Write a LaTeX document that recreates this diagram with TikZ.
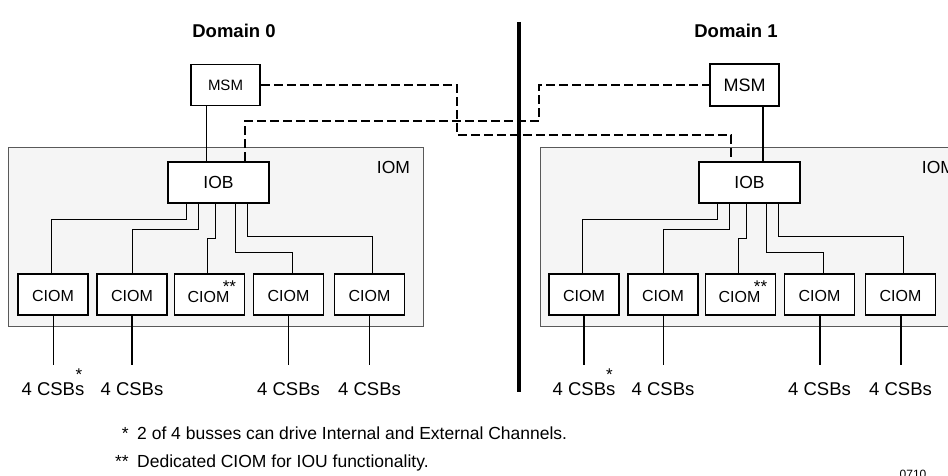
\documentclass[tikz,border=0pt]{standalone}
\usepackage{fontspec}
\setmainfont{Liberation Sans}
\usetikzlibrary{calc}
\begin{document}
\begin{tikzpicture}[x=1pt,y=-1pt,
  box/.style={draw=black, line width=1.8pt, fill=white, inner sep=0pt, minimum width=69pt, minimum height=41pt},
  ciom/.style={box, minimum width=70pt, font=\fontsize{16}{18}\selectfont},
  iombox/.style={draw=black!65, line width=0.8pt, fill=black!4},
  wire/.style={line width=0.9pt},
  thickwire/.style={line width=2pt},
  link/.style={line width=1.6pt, dash pattern=on 9pt off 4pt},
  lbl/.style={font=\fontsize{18.5}{20}\selectfont, inner sep=0pt, anchor=base},
  title/.style={font=\fontsize{18.5}{20}\selectfont\bfseries, inner sep=0pt, anchor=base},
  note/.style={font=\fontsize{17.5}{20}\selectfont, inner sep=0pt},
  star/.style={font=\fontsize{17}{18}\selectfont, inner sep=0pt, anchor=north},
  divider/.style={line width=4pt}
]
\useasboundingbox (0,0) rectangle (948,476);
\clip (0,0) rectangle (948,476);

% IOM enclosures
\path[iombox] (8,147) rectangle (423,326);
\path[iombox] (540,147) rectangle (962,326);
\node[font=\fontsize{17.5}{20}\selectfont, inner sep=0pt] (iomlbl0) at (393.5,167) {IOM};
\node[font=\fontsize{17.5}{20}\selectfont, inner sep=0pt] (iomlbl1) at (938.5,167) {IOM};

% divider
\coordinate (divtop) at (519,22);
\coordinate (divbot) at (519,392);
\draw[divider] (divtop) -- (divbot);

% titles
\node[title] (dom0) at (234,38) {Domain 0};
\node[title] (dom1) at (736,38) {Domain 1};

% MSMs and IOBs
\node[box, font=\fontsize{15}{17}\selectfont] (msm0) at (225.5,85) {MSM};
\node[box, minimum height=42pt, font=\fontsize{18}{20}\selectfont] (msm1) at (744.5,85) {MSM};
\node[box, minimum width=101pt, font=\fontsize{17.5}{20}\selectfont] (iob0) at (218.5,182.5) {IOB};
\node[box, minimum width=101pt, font=\fontsize{17.5}{20}\selectfont] (iob1) at (749.5,182.5) {IOB};

% CIOMs
\foreach \i/\x in {1/53,2/132,3/209.5,4/288.5,5/369.5}{
  \node[ciom] (c0\i) at (\x,294.5) {};
  \node[ciom] (c1\i) at ({\x+531},294.5) {};
}
\foreach \d in {0,1}{
  \foreach \i in {1,2,4,5}{
    \node[font=\fontsize{16}{18}\selectfont, inner sep=0pt] at ($(c\d\i.center)+(0,1)$) {CIOM};
  }
  \node[font=\fontsize{16}{18}\selectfont, inner sep=0pt] (t\d3) at ($(c\d3.center)+(-1,2)$) {CIOM};
  \node[star] (s\d3) at ($(c\d3.center)+(20,-13.5)$) {**};
}

% IOB to CIOM wires
\foreach \d in {0,1}{
  \draw[wire] ($(iob\d.south west)+(19,0)$) -- ++(0,16) -| ($(c\d1.north)+(-1.5,0)$);
  \draw[wire] ($(iob\d.south west)+(31,0)$) -- ++(0,26) -| ($(c\d2.north)+(0.5,0)$);
  \draw[wire] ($(iob\d.south west)+(48,0)$) -- ++(0,35) -| ($(c\d3.north)+(-2.5,0)$);
  \draw[wire] ($(iob\d.south west)+(68,0)$) -- ++(0,49) -| ($(c\d4.north)+(4,0)$);
  \draw[wire] ($(iob\d.south west)+(80,0)$) -- ++(0,33) -| ($(c\d5.north)+(3,0)$);
}

% MSM to IOB
\draw[wire] ($(msm0.south west)+(16,0)$) -- ($(iob0.north west)+(39,0)$);
\draw[thickwire] ($(msm1.south west)+(54,0)$) -- ($(iob1.north west)+(65,0)$);

% cross-domain dashed links
\draw[link] (msm0.east) -| (457,135) -| ($(iob1.north west)+(33,0)$);
\draw[link] ($(iob0.north west)+(78,0)$) |- (539,121) |- (msm1.west);

% CSB lines and labels
\foreach \d/\i in {0/1,0/2,0/4,0/5,1/1,1/2,1/4,1/5}{
  \coordinate (e\d\i) at (c\d\i.south |- 0,365);
  \node[lbl] (l\d\i) at (c\d\i.south |- 0,395) {4 CSBs};
}
\draw[wire] (c01.south) -- (e01);
\draw[thickwire] (c02.south) -- (e02);
\draw[wire] (c04.south) -- (e04);
\draw[wire] (c05.south) -- (e05);
\draw[thickwire] (c11.south) -- (e11);
\draw[wire] (c12.south) -- (e12);
\draw[thickwire] (c14.south) -- (e14);
\draw[thickwire] (c15.south) -- (e15);
\node[star] (cs0) at (79,369) {*};
\node[star] (cs1) at (609.5,369) {*};

% footnotes
\node[note, anchor=base east] (fs1) at (129,439) {*};
\node[note, anchor=base west] (fn1) at (137,439) {2 of 4 busses can drive Internal and External Channels.};
\node[note, anchor=base east] (fs2) at (129,467) {**};
\node[note, anchor=base west] (fn2) at (137,467) {Dedicated CIOM for IOU functionality.};
\node[font=\fontsize{12}{14}\selectfont, inner sep=0pt, anchor=base] (code) at (913,478) {0710};
\end{tikzpicture}
\end{document}
